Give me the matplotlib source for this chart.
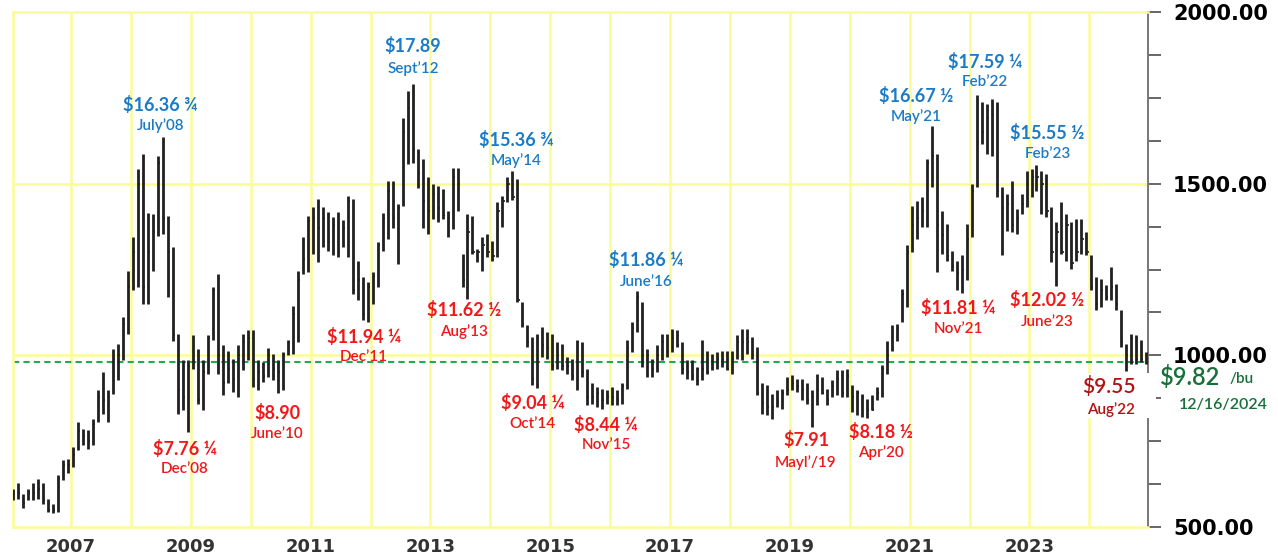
import numpy as np
import matplotlib.pyplot as plt
from matplotlib.patches import Rectangle

# Monthly soybean futures bars, Jan 2006 - Dec 2024 (cents per bushel)
high = [
    612, 627, 597, 612, 627, 641, 627, 583, 568, 651, 694, 699,            # 2006
    733, 806, 786, 782, 816, 898, 951, 898, 1019, 1034, 1111, 1247,        # 2007
    1344, 1542, 1586, 1416, 1412, 1581, 1636, 1407, 1315, 1063, 985, 985,  # 2008
    1058, 1019, 985, 1058, 1199, 1237, 1029, 1014, 990, 1029, 1063, 1073,  # 2009
    1073, 986, 981, 1020, 1005, 986, 1010, 1044, 1145, 1247, 1344, 1407,   # 2010
    1431, 1456, 1431, 1417, 1402, 1417, 1393, 1465, 1456, 1276, 1228, 1213,  # 2011
    1242, 1330, 1416, 1509, 1509, 1442, 1692, 1770, 1789, 1602, 1573, 1518,  # 2012
    1499, 1494, 1484, 1421, 1547, 1547, 1296, 1412, 1407, 1310, 1344, 1354,  # 2013
    1334, 1446, 1465, 1518, 1537, 1514, 1155, 1087, 1053, 1063, 1082, 1068,  # 2014
    1063, 1039, 1034, 995, 990, 1044, 1039, 961, 918, 908, 903, 898,       # 2015
    908, 898, 918, 1044, 1097, 1186, 1155, 1019, 990, 1029, 1063, 1063,    # 2016
    1077, 1073, 1039, 985, 985, 966, 1044, 1014, 1005, 1010, 1014, 1014,   # 2017
    1014, 1058, 1077, 1077, 1053, 1024, 918, 913, 888, 898, 903, 937,      # 2018
    942, 932, 932, 918, 898, 947, 937, 903, 927, 956, 956, 961,            # 2019
    913, 898, 888, 874, 884, 908, 971, 1043, 1087, 1092, 1194, 1320,       # 2020
    1436, 1450, 1460, 1572, 1668, 1586, 1421, 1383, 1305, 1276, 1291, 1383,  # 2021
    1499, 1759, 1737, 1732, 1746, 1737, 1489, 1470, 1509, 1426, 1470, 1538,  # 2022
    1543, 1555, 1538, 1528, 1431, 1388, 1446, 1412, 1388, 1397, 1397, 1359,  # 2023
    1291, 1228, 1223, 1204, 1257, 1208, 1131, 1034, 1063, 1058, 1044, 1010,  # 2024
]
low = [
    578, 583, 554, 578, 578, 583, 568, 544, 540, 544, 636, 656,
    675, 724, 738, 728, 738, 806, 830, 806, 888, 927, 985, 1063,
    1189, 1198, 1150, 1150, 1247, 1349, 1353, 1169, 1043, 830, 840, 776,
    961, 859, 840, 947, 1044, 947, 884, 918, 893, 879, 956, 985,
    908, 898, 923, 937, 927, 890, 898, 1000, 1005, 1039, 1238, 1242,
    1296, 1271, 1315, 1305, 1291, 1286, 1315, 1286, 1179, 1160, 1102, 1097,
    1150, 1200, 1305, 1340, 1370, 1267, 1436, 1558, 1560, 1488, 1372, 1354,
    1397, 1388, 1397, 1344, 1368, 1420, 1199, 1163, 1296, 1271, 1247, 1286,
    1276, 1286, 1373, 1446, 1451, 1155, 1082, 1024, 913, 904, 995, 990,
    956, 961, 956, 947, 927, 898, 937, 855, 859, 850, 844, 859,
    855, 855, 859, 903, 1010, 1068, 966, 937, 937, 951, 985, 995,
    1010, 1024, 947, 932, 927, 913, 927, 947, 956, 961, 966, 956,
    947, 990, 985, 1005, 990, 884, 830, 826, 816, 850, 845, 884,
    898, 893, 869, 859, 791, 855, 888, 855, 879, 884, 879, 879,
    835, 825, 820, 818, 840, 869, 879, 946, 1014, 1043, 1097, 1140,
    1300, 1339, 1373, 1373, 1489, 1242, 1295, 1276, 1247, 1189, 1181, 1218,
    1344, 1489, 1615, 1586, 1581, 1460, 1291, 1363, 1359, 1354, 1412, 1431,
    1460, 1480, 1412, 1402, 1271, 1202, 1296, 1276, 1252, 1276, 1296, 1291,
    1189, 1131, 1141, 1160, 1160, 1131, 1024, 955, 976, 976, 981, 975,
]
close = [
    595, 600, 570, 600, 600, 610, 580, 550, 550, 640, 680, 680,
    710, 780, 765, 750, 800, 880, 870, 880, 990, 1000, 1090, 1200,
    1300, 1500, 1200, 1300, 1360, 1560, 1400, 1300, 1060, 900, 880, 970,
    980, 870, 950, 1050, 1190, 1000, 920, 960, 930, 1000, 1040, 1050,
    930, 950, 940, 1000, 960, 950, 1000, 1040, 1120, 1220, 1280, 1390,
    1400, 1370, 1400, 1330, 1380, 1300, 1370, 1450, 1190, 1220, 1120, 1200,
    1230, 1320, 1400, 1480, 1400, 1430, 1650, 1720, 1600, 1530, 1450, 1420,
    1470, 1430, 1410, 1400, 1520, 1500, 1220, 1360, 1300, 1300, 1320, 1300,
    1290, 1420, 1450, 1500, 1460, 1160, 1090, 1040, 930, 1050, 1030, 1020,
    970, 1000, 970, 970, 940, 1040, 950, 880, 880, 890, 870, 880,
    880, 870, 910, 1020, 1080, 1170, 1000, 1000, 960, 1000, 1040, 1010,
    1050, 1030, 960, 950, 940, 960, 960, 950, 980, 990, 990, 960,
    990, 1040, 1040, 1040, 1000, 890, 860, 850, 850, 860, 890, 900,
    920, 910, 900, 870, 880, 900, 890, 870, 910, 930, 890, 940,
    880, 890, 880, 840, 840, 890, 960, 1000, 1020, 1080, 1180, 1300,
    1380, 1400, 1420, 1560, 1580, 1380, 1350, 1290, 1260, 1240, 1250, 1340,
    1480, 1620, 1650, 1690, 1700, 1480, 1430, 1440, 1380, 1400, 1440, 1500,
    1520, 1520, 1500, 1420, 1300, 1360, 1300, 1380, 1270, 1300, 1340, 1300,
    1200, 1150, 1190, 1170, 1200, 1150, 1040, 1000, 1050, 990, 990, 982,
]
start_year = 2006
last_price = 982

# callouts: (price text, date text, x in years, y of price line, y of date line)
highs_notes = [
    ("$16.36 \u00be", "July\u201908", 2008.49, 1729, 1668),
    ("$17.89", "Sept\u201912", 2012.71, 1901, 1834),
    ("$15.36 \u00be", "May\u201914", 2014.43, 1627, 1566),
    ("$11.86 \u00bc", "June\u201916", 2016.60, 1278, 1214),
    ("$16.67 \u00bd", "May\u201921", 2021.11, 1755, 1694),
    ("$17.59 \u00bc", "Feb\u201922", 2022.26, 1854, 1796),
    ("$15.55 \u00bd", "Feb\u201923", 2023.30, 1648, 1586),
]
lows_notes = [
    ("$7.76 \u00bc", "Dec\u201908", 2008.90, 727, 669),
    ("$8.90", "June\u201910", 2010.44, 832, 771),
    ("$11.94 \u00bc", "Dec\u201911", 2011.89, 1053, 995),
    ("$11.62 \u00bd", "Aug\u201913", 2013.56, 1132, 1068),
    ("$9.04 \u00bc", "Oct\u201914", 2014.71, 861, 800),
    ("$8.44 \u00bc", "Nov\u201915", 2015.93, 797, 739),
    ("$7.91", "Mayl\u2019/19", 2019.27, 753, 689),
    ("$8.18 \u00bd", "Apr\u201920", 2020.52, 777, 716),
    ("$11.81 \u00bc", "Nov\u201921", 2021.81, 1138, 1077),
    ("$12.02 \u00bd", "June\u201923", 2023.30, 1161, 1097),
]

YELLOW = "#fcfc96"
BLUE = "#1b7bc6"
RED = "#f01818"
DARKRED = "#b31212"
GREEN = "#17703a"

W, H = 1278, 554
fig = plt.figure(figsize=(W / 100, H / 100), dpi=100)
ax = fig.add_axes([13 / W, 27 / H, 1135 / W, 515 / H])

x = start_year + np.arange(len(high)) / 12 + 0.035

# grid
for yr in range(2007, 2025):
    ax.axvline(yr, color=YELLOW, lw=1.8, zorder=0)
for lvl in (1000, 1500):
    ax.axhline(lvl, color=YELLOW, lw=1.8, zorder=0)
ax.axhline(last_price, color="#1fae4e", lw=1.5, ls=(0, (3, 2)), zorder=1)

# bars
ax.vlines(x, low, high, color="#202020", lw=2.0, zorder=3)
ax.hlines(close, x, x + 0.035, color="#202020", lw=1.2, zorder=3)

ax.set_xlim(2006.03, 2024.98)
ax.set_ylim(500, 2000)

for side in ("left", "top", "bottom"):
    ax.spines[side].set_color(YELLOW)
    ax.spines[side].set_linewidth(1.8)
ax.spines["right"].set_color("#777777")
ax.spines["right"].set_linewidth(1.4)

ax.yaxis.tick_right()
ax.set_yticks(np.arange(500, 2001, 125), minor=True)
ax.set_yticks([500, 1000, 1500, 2000])
ax.set_yticklabels(["%.2f" % v for v in (500, 1000, 1500, 2000)],
                   fontsize=15, fontweight="bold", family="DejaVu Sans")
ax.tick_params(axis="y", which="both", length=9, width=1.4, color="#666666",
               pad=9, labelcolor="black")

ax.set_xticks(range(2007, 2024, 2))
ax.set_xticklabels([str(y) for y in range(2007, 2024, 2)],
                   fontsize=13, fontweight="bold", color="#333333")
ax.tick_params(axis="x", length=0, pad=8)

for price, date, xx, yp, yd in highs_notes:
    ax.text(xx, yp, price, color=BLUE, fontsize=13, fontweight="bold",
            family="Lato", ha="center", va="center", zorder=5)
    ax.text(xx, yd, date, color=BLUE, fontsize=11, fontweight="semibold",
            family="Lato", ha="center", va="center", zorder=5)
for price, date, xx, yp, yd in lows_notes:
    ax.text(xx, yp, price, color=RED, fontsize=13, fontweight="bold",
            family="Lato", ha="center", va="center", zorder=5)
    ax.text(xx, yd, date, color=RED, fontsize=11, fontweight="semibold",
            family="Lato", ha="center", va="center", zorder=5)

# white patch behind the latest low callout
fig.patches.append(Rectangle((1080 / W, 1 - 418 / H), 76 / W, 45 / H,
                             transform=fig.transFigure, facecolor="white",
                             edgecolor="none", zorder=2))
fig.text(1109 / W, 1 - 387 / H, "$9.55", color=DARKRED, fontsize=15,
         fontweight="semibold", family="Lato", ha="center", va="center", zorder=3)
fig.text(1111 / W, 1 - 410 / H, "Aug\u201922", color=DARKRED, fontsize=11,
         fontweight="semibold", family="Lato", ha="center", va="center", zorder=3)

fig.text(1160 / W, 1 - 377 / H, "$9.82", color=GREEN, fontsize=17,
         fontweight="semibold", family="Lato", ha="left", va="center", zorder=3)
fig.text(1230 / W, 1 - 379 / H, "/bu", color=GREEN, fontsize=11,
         fontweight="semibold", family="Lato", ha="left", va="center", zorder=3)
fig.text(1179 / W, 1 - 405 / H, "12/16/2024", color=GREEN, fontsize=11.5,
         fontweight="semibold", family="Lato", ha="left", va="center", zorder=3)

fig.savefig("out.png", dpi=100)
